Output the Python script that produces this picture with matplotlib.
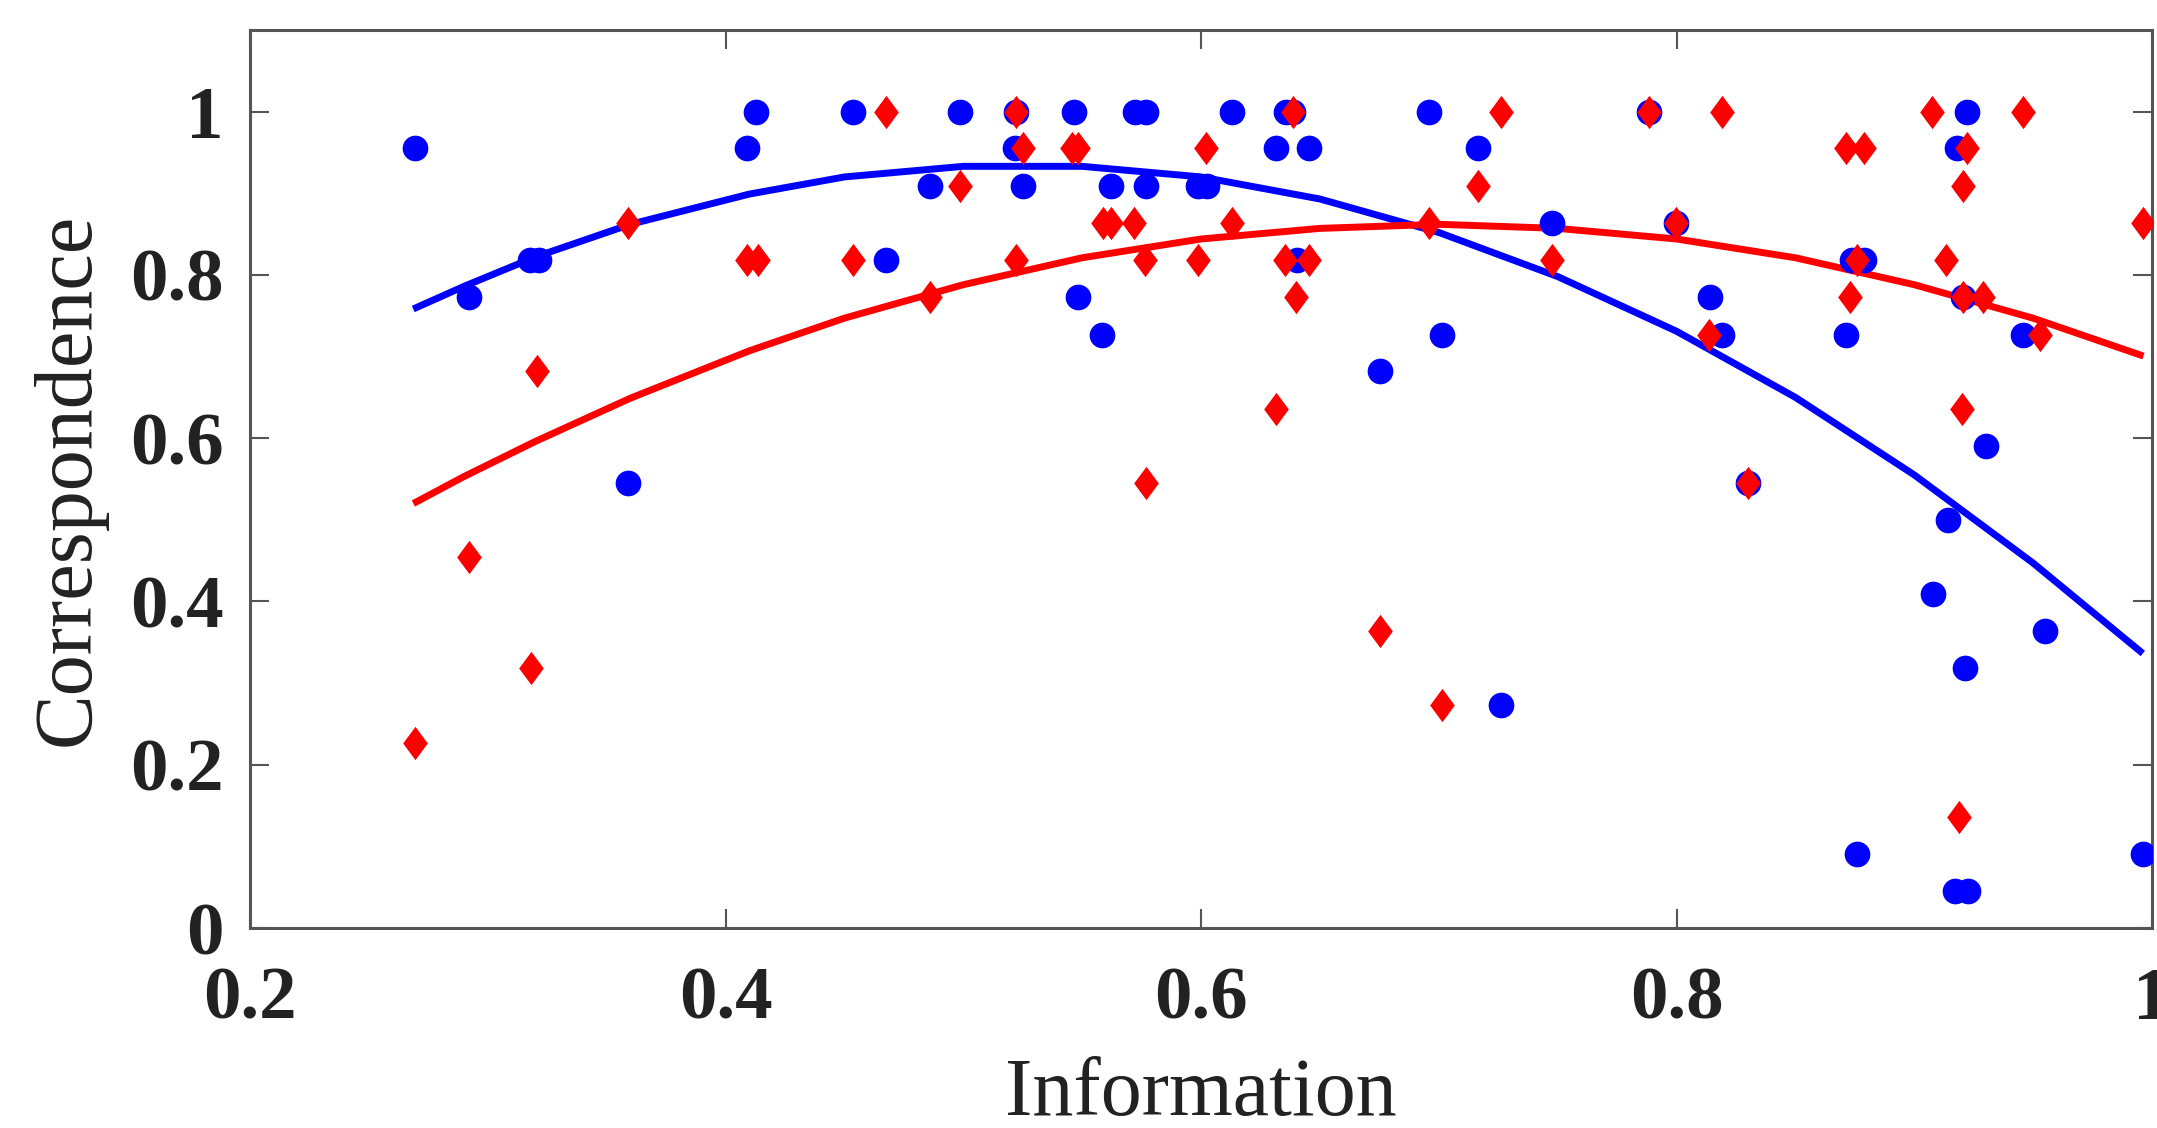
"""Correspondence vs Information scatter with quadratic trend curves"""
import matplotlib
matplotlib.use('Agg')
import matplotlib.pyplot as plt
from matplotlib.path import Path

plt.rcParams['font.family'] = ['Liberation Serif', 'DejaVu Serif']

# ── blue circles ──
info_blue = [0.2696, 0.292, 0.3178, 0.3216, 0.359, 0.409, 0.413, 0.4536, 0.4677, 0.486,
             0.4988, 0.5222, 0.5218, 0.5253, 0.5466, 0.5484, 0.5584, 0.562, 0.5722, 0.5767,
             0.5768, 0.5989, 0.6024, 0.6132, 0.6316, 0.6357, 0.6388, 0.6402, 0.6455, 0.6753,
             0.696, 0.7012, 0.7165, 0.726, 0.7475, 0.7883, 0.7997, 0.8139, 0.819, 0.830,
             0.8714, 0.8738, 0.876, 0.8787, 0.9078, 0.9143, 0.9171, 0.9178, 0.9203, 0.9215,
             0.922, 0.9226, 0.930, 0.9457, 0.9548, 0.996]
corr_blue = [0.955, 0.773, 0.818, 0.818, 0.545, 0.955, 1.0, 1.0, 0.818, 0.909,
             1.0, 1.0, 0.955, 0.909, 1.0, 0.773, 0.727, 0.909, 1.0, 1.0,
             0.909, 0.909, 0.909, 1.0, 0.955, 1.0, 1.0, 0.818, 0.955, 0.682,
             1.0, 0.727, 0.955, 0.273, 0.864, 1.0, 0.864, 0.773, 0.727, 0.545,
             0.727, 0.818, 0.091, 0.818, 0.409, 0.5, 0.045, 0.955, 0.773, 0.318,
             1.0, 0.045, 0.591, 0.727, 0.364, 0.091]

# ── red diamonds ──
info_red = [0.2696, 0.292, 0.318, 0.3207, 0.359, 0.409, 0.4136, 0.4536, 0.4677, 0.486,
            0.4988, 0.5222, 0.5222, 0.525, 0.5456, 0.5484, 0.5586, 0.562, 0.5718, 0.5764,
            0.577, 0.5989, 0.602, 0.6132, 0.6317, 0.6353, 0.6388, 0.640, 0.6456, 0.6753,
            0.696, 0.7012, 0.7165, 0.726, 0.7475, 0.7883, 0.7997, 0.8135, 0.819, 0.830,
            0.8714, 0.873, 0.876, 0.8787, 0.9073, 0.9133, 0.9189, 0.920, 0.9203, 0.9203,
            0.922, 0.929, 0.9459, 0.9529, 0.996]
corr_red = [0.227, 0.455, 0.318, 0.682, 0.864, 0.818, 0.818, 0.818, 1.0, 0.773,
            0.909, 1.0, 0.818, 0.955, 0.955, 0.955, 0.864, 0.864, 0.864, 0.818,
            0.545, 0.818, 0.955, 0.864, 0.636, 0.818, 1.0, 0.773, 0.818, 0.364,
            0.864, 0.273, 0.909, 1.0, 0.818, 1.0, 0.864, 0.727, 1.0, 0.545,
            0.955, 0.773, 0.818, 0.955, 1.0, 0.818, 0.136, 0.636, 0.773, 0.909,
            0.955, 0.773, 1.0, 0.727, 0.864]

# ── trend curves ──
curve_x = [0.27, 0.29, 0.32, 0.36, 0.41, 0.45, 0.50, 0.55, 0.60, 0.65,
           0.70, 0.75, 0.80, 0.85, 0.90, 0.95, 0.995]
curve_blue = [0.760, 0.786, 0.822, 0.862, 0.899, 0.920, 0.933, 0.933, 0.920, 0.893,
              0.852, 0.798, 0.731, 0.650, 0.555, 0.447, 0.339]
curve_red = [0.522, 0.553, 0.596, 0.649, 0.707, 0.747, 0.788, 0.821, 0.844, 0.857,
             0.862, 0.857, 0.844, 0.821, 0.788, 0.747, 0.702]

x_ticks = [0.2, 0.4, 0.6, 0.8, 1.0]
x_labels = ['0.2', '0.4', '0.6', '0.8', '1']
y_ticks = [0, 0.2, 0.4, 0.6, 0.8, 1.0]
y_labels = ['0', '0.2', '0.4', '0.6', '0.8', '1']

# 稍宽一点的菱形 (宽/高 ≈ 0.74)
diamond = Path([(0, 1), (0.74, 0), (0, -1), (-0.74, 0), (0, 1)],
               [Path.MOVETO, Path.LINETO, Path.LINETO, Path.LINETO, Path.CLOSEPOLY])

fig = plt.figure(figsize=(21.57, 11.28), dpi=100)
ax = fig.add_axes([0.1159, 0.1773, 0.8818, 0.7961])

ax.plot(curve_x, curve_blue, '-', color='#0000FF', linewidth=5, zorder=2)
ax.plot(curve_x, curve_red, '-', color='#FF0000', linewidth=5, zorder=2)
ax.plot(info_blue, corr_blue, 'o', color='#0000FF', markersize=18.5, markeredgewidth=0, zorder=3)
ax.plot(info_red, corr_red, linestyle='none', marker=diamond, color='#FF0000',
        markersize=24, markeredgewidth=0, zorder=4)

ax.set_xlim(0.2, 1.0)
ax.set_ylim(0, 1.1)
ax.set_xticks(x_ticks)
ax.set_xticklabels(x_labels)
ax.set_yticks(y_ticks)
ax.set_yticklabels(y_labels)

for lab in ax.get_xticklabels() + ax.get_yticklabels():
    lab.set_fontweight('bold')
    lab.set_fontsize(54)
    lab.set_color('#222222')

ax.tick_params(axis='both', direction='in', length=14, width=1.5, color='#555555',
               top=True, right=True)
ax.tick_params(axis='x', pad=28)
ax.tick_params(axis='y', pad=19)
for s in ax.spines.values():
    s.set_color('#555555')
    s.set_linewidth(2.2)

ax.set_xlabel('Information', fontsize=59, color='#222222', va='center')
ax.set_ylabel('Correspondence', fontsize=59, color='#222222', va='center')
ax.xaxis.set_label_coords(0.5, -0.186)
ax.yaxis.set_label_coords(-0.0952, 0.5)

fig.savefig('out.png', dpi=100, facecolor='white')
plt.close()
